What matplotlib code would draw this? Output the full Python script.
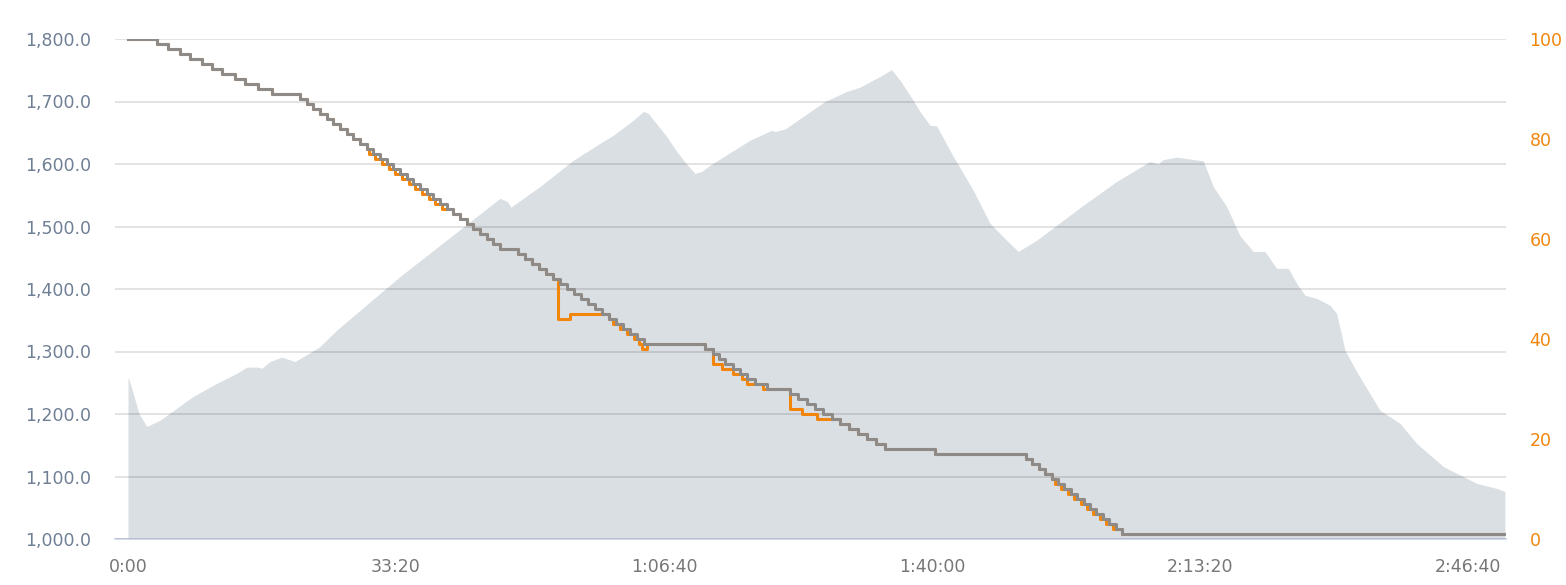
import matplotlib
matplotlib.use('Agg')
import matplotlib.pyplot as plt
import matplotlib.ticker as ticker

# elevation profile: time (s) / altitude (m), left axis
elev_t = [0, 15, 82, 140, 239, 485, 662, 811, 886, 972, 998, 1060, 1147, 1246,
          1358, 1433, 1557, 2030, 2776, 2831, 2858, 3075, 3199, 3323, 3522, 3622,
          3771, 3846, 3883, 4020, 4095, 4169, 4231, 4281, 4343, 4642, 4804, 4828,
          4903, 5201, 5363, 5463, 5612, 5699, 5761, 5860, 5910, 5985, 6035, 6159,
          6308, 6433, 6557, 6644, 6781, 7129, 7378, 7627, 7689, 7726, 7826, 8025,
          8099, 8199, 8299, 8398, 8485, 8572, 8659, 8722, 8784, 8871, 8970, 9020,
          9082, 9169, 9343, 9493, 9617, 9816, 10065, 10214, 10276]
elev_m = [1259, 1250, 1201, 1180, 1190, 1228, 1249, 1265, 1275, 1275, 1273, 1284,
          1291, 1284, 1298, 1308, 1334, 1420, 1545, 1540, 1531, 1564, 1585, 1606,
          1633, 1646, 1670, 1684, 1681, 1644, 1620, 1600, 1585, 1588, 1598, 1638,
          1654, 1652, 1656, 1700, 1716, 1723, 1740, 1751, 1734, 1702, 1684, 1662,
          1661, 1612, 1558, 1505, 1478, 1460, 1478, 1534, 1572, 1604, 1600, 1607,
          1611, 1605, 1564, 1532, 1485, 1460, 1460, 1433, 1433, 1409, 1390, 1385,
          1374, 1361, 1302, 1268, 1206, 1185, 1153, 1116, 1089, 1081, 1076]

# gray step series (right axis)
gray_t = [0, 214, 301, 388, 463, 550, 625, 699, 799, 873, 972, 1072, 1284, 1334,
          1383, 1433, 1483, 1532, 1582, 1632, 1681, 1731, 1781, 1831, 1881, 1931,
          1980, 2030, 2080, 2129, 2179, 2229, 2278, 2328, 2378, 2428, 2478, 2528,
          2577, 2627, 2677, 2726, 2776, 2910, 2963, 3015, 3067, 3119, 3172, 3224,
          3276, 3328, 3381, 3433, 3485, 3537, 3590, 3642, 3694, 3746, 3799, 3851,
          4306, 4366, 4410, 4455, 4515, 4567, 4619, 4679, 4769, 4940, 5000, 5067,
          5127, 5187, 5254, 5313, 5381, 5448, 5515, 5582, 5649, 6022, 6701, 6746,
          6799, 6843, 6896, 6940, 6985, 7037, 7082, 7134, 7179, 7224, 7276, 7321,
          7373, 7418, 10276]
gray_v = [100, 99, 98, 97, 96, 95, 94, 93, 92, 91, 90, 89, 88, 87, 86, 85, 84, 83,
          82, 81, 80, 79, 78, 77, 76, 75, 74, 73, 72, 71, 70, 69, 68, 67, 66, 65,
          64, 63, 62, 61, 60, 59, 58, 57, 56, 55, 54, 53, 52, 51, 50, 49, 48, 47,
          46, 45, 44, 43, 42, 41, 40, 39, 38, 37, 36, 35, 34, 33, 32, 31, 30, 29,
          28, 27, 26, 25, 24, 23, 22, 21, 20, 19, 18, 17, 16, 15, 14, 13, 12, 11,
          10, 9, 8, 7, 6, 5, 4, 3, 2, 1, 1]

# orange step series (right axis)
orange_t = [0, 214, 301, 388, 463, 550, 625, 699, 799, 873, 972, 1072, 1284, 1334,
            1383, 1433, 1483, 1532, 1582, 1632, 1681, 1731, 1781, 1796, 1846, 1896,
            1945, 1995, 2045, 2094, 2144, 2194, 2243, 2293, 2343, 2428, 2478, 2528,
            2577, 2627, 2677, 2726, 2776, 2910, 2963, 3015, 3067, 3119, 3172, 3209,
            3298, 3590, 3620, 3672, 3724, 3776, 3810, 3836, 3870, 4306, 4366, 4430,
            4515, 4579, 4617, 4741, 4940, 5027, 5139, 5313, 5381, 5448, 5515, 5582,
            5649, 6022, 6701, 6746, 6799, 6843, 6896, 6915, 6960, 7012, 7057, 7109,
            7154, 7199, 7251, 7296, 7348, 7418, 10276]
orange_v = [100, 99, 98, 97, 96, 95, 94, 93, 92, 91, 90, 89, 88, 87, 86, 85, 84,
            83, 82, 81, 80, 79, 78, 77, 76, 75, 74, 73, 72, 71, 70, 69, 68, 67, 66,
            65, 64, 63, 62, 61, 60, 59, 58, 57, 56, 55, 54, 53, 52, 44, 45, 44, 43,
            42, 41, 40, 39, 38, 39, 38, 35, 34, 33, 32, 31, 30, 26, 25, 24, 23, 22,
            21, 20, 19, 18, 17, 16, 15, 14, 13, 12, 11, 10, 9, 8, 7, 6, 5, 4, 3, 2,
            1, 1]

x_ticks = [0, 2000, 4000, 6000, 8000, 10000]
x_tick_labels = ['0:00', '33:20', '1:06:40', '1:40:00', '2:13:20', '2:46:40']
left_ticks = [1000, 1100, 1200, 1300, 1400, 1500, 1600, 1700, 1800]
right_ticks = [0, 20, 40, 60, 80, 100]

AREA_COLOR = '#dadfe3'
GRAY_COLOR = '#8d8a87'
ORANGE_COLOR = '#f2860c'
LEFT_LABEL_COLOR = '#6f7f95'
X_LABEL_COLOR = '#777777'

plt.rcParams['font.family'] = ['DejaVu Sans']

fig = plt.figure(figsize=(15.66, 5.85), dpi=100)
ax = fig.add_axes([115 / 1566, 1 - 539 / 585, (1506 - 115) / 1566, 500 / 585])

ax.fill_between(elev_t, 1000, elev_m, color=AREA_COLOR, linewidth=0, zorder=1)
ax.set_xlim(-97, 10284)
ax.set_ylim(1000, 1800)
ax.set_yticks(left_ticks)
ax.yaxis.set_major_formatter(ticker.FuncFormatter(lambda v, p: '{:,.1f}'.format(v)))
ax.set_xticks(x_ticks)
ax.set_xticklabels(x_tick_labels)

ax.grid(axis='y', color='k', alpha=0.12, linewidth=1.3)
ax.grid(axis='x', visible=False)
ax.set_axisbelow(False)

for side in ['top', 'right', 'left']:
    ax.spines[side].set_visible(False)
ax.spines['bottom'].set_color('#ccd6eb')
ax.spines['bottom'].set_linewidth(1.2)

ax.tick_params(axis='y', length=0, pad=17, labelsize=12.5, labelcolor=LEFT_LABEL_COLOR)
ax.tick_params(axis='x', length=0, pad=14, labelsize=12.5, labelcolor=X_LABEL_COLOR)

ax2 = ax.twinx()
ax2.step(orange_t, orange_v, where='post', color=ORANGE_COLOR, linewidth=2.2, zorder=3)
ax2.step(gray_t, gray_v, where='post', color=GRAY_COLOR, linewidth=2.2, zorder=4)
ax2.set_ylim(0, 100)
ax2.set_yticks(right_ticks)
ax2.tick_params(axis='y', length=0, pad=17, labelsize=12.5, labelcolor=ORANGE_COLOR)
for side in ['top', 'right', 'left', 'bottom']:
    ax2.spines[side].set_visible(False)

plt.savefig('out.png', dpi=100)
plt.close('all')
